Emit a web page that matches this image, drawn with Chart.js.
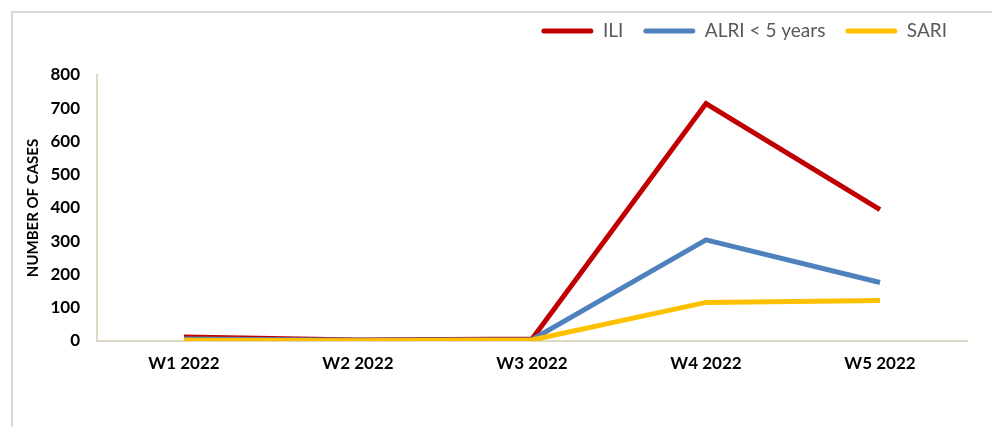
<!DOCTYPE html>
<html>
<head>
<meta charset="utf-8">
<script src="https://cdn.jsdelivr.net/npm/chart.js@4"></script>
<style>
    body { margin: 0; background: #fff; }
    #frame { position: absolute; left: 11px; top: 11px; width: 990px; height: 430px; border-left: 2px solid #d9d9d9; border-top: 2px solid #d9d9d9; }
    #wrap { position: absolute; left: 0; top: 0; width: 992px; height: 427px; }
</style>
</head>
<body>
<div id="frame"></div>
<div id="wrap"><canvas id="myChart" width="992" height="427"></canvas></div>
<script>
const weeks = ['W1 2022', 'W2 2022', 'W3 2022', 'W4 2022', 'W5 2022'];
const iliCases = [12, 3, 6, 714, 395];
const alriCases = [6, 2, 4, 304, 176];
const sariCases = [2, 1, 3, 116, 122];
const yMin = 0;
const yMax = 800;
const yStep = 100;

const AXIS_COLOR = '#DDD9C4';
const FONT = 'Lato, "Open Sans", sans-serif';


function makeLine(label, data, color, order) {
    return {
        label: label,
        data: data,
        borderColor: color,
        backgroundColor: color,
        borderWidth: 5,
        pointRadius: 0,
        tension: 0,
        order: order
    };
}


function drawChart() {
    const ctx = document.getElementById('myChart').getContext('2d');
    new Chart(ctx, {
        type: 'line',
        data: {
            labels: weeks,
            datasets: [
                makeLine('ILI', iliCases, '#C00000', 3),
                makeLine('ALRI < 5 years', alriCases, '#4F81BD', 2),
                makeLine('SARI', sariCases, '#FFC000', 1)
            ]
        },
        options: {
            responsive: false,
            animation: false,
            layout: { padding: { left: 12, right: 25, top: 1.5, bottom: 0 } },
            plugins: {
                tooltip: { enabled: false },
                legend: {
                    position: 'top',
                    align: 'end',
                    labels: {
                        font: { family: FONT, size: 19 },
                        color: '#595959',
                        boxWidth: 52,
                        boxHeight: 5,
                        useBorderRadius: true,
                        borderRadius: 2.5,
                        padding: 20,
                        sort: (a, b) => a.datasetIndex - b.datasetIndex,
                        generateLabels: chart => Chart.defaults.plugins.legend.labels.generateLabels(chart)
                            .map(item => Object.assign(item, { lineWidth: 0 }))
                    }
                },
                title: {  // spacer between legend and plot
                    display: true,
                    text: '',
                    weight: 500,
                    font: { size: 1, lineHeight: 1 },
                    padding: { top: 0, bottom: 23.5 }
                }
            },
            scales: {
                x: {
                    offset: true,
                    grid: { display: false, drawTicks: false },
                    border: { display: true, color: AXIS_COLOR, width: 2 },
                    ticks: {
                        padding: 12,
                        color: '#000',
                        font: { family: FONT, size: 17, weight: 'bold' }
                    },
                    afterFit: scale => { scale.height = 86; }
                },
                y: {
                    min: yMin,
                    max: yMax,
                    grid: { display: false, drawTicks: false },
                    border: { display: true, color: AXIS_COLOR, width: 2 },
                    ticks: {
                        stepSize: yStep,
                        padding: 17,
                        color: '#000',
                        font: { family: FONT, size: 17, weight: 'bold' }
                    },
                    title: {
                        display: true,
                        text: 'NUMBER OF CASES',
                        color: '#000',
                        padding: { top: 12, bottom: 0 },
                        font: { family: FONT, size: 15, weight: 'bold' }
                    },
                    afterFit: scale => { scale.width = 85; }
                }
            }
        }
    });
}

drawChart();
</script>
</body>
</html>
